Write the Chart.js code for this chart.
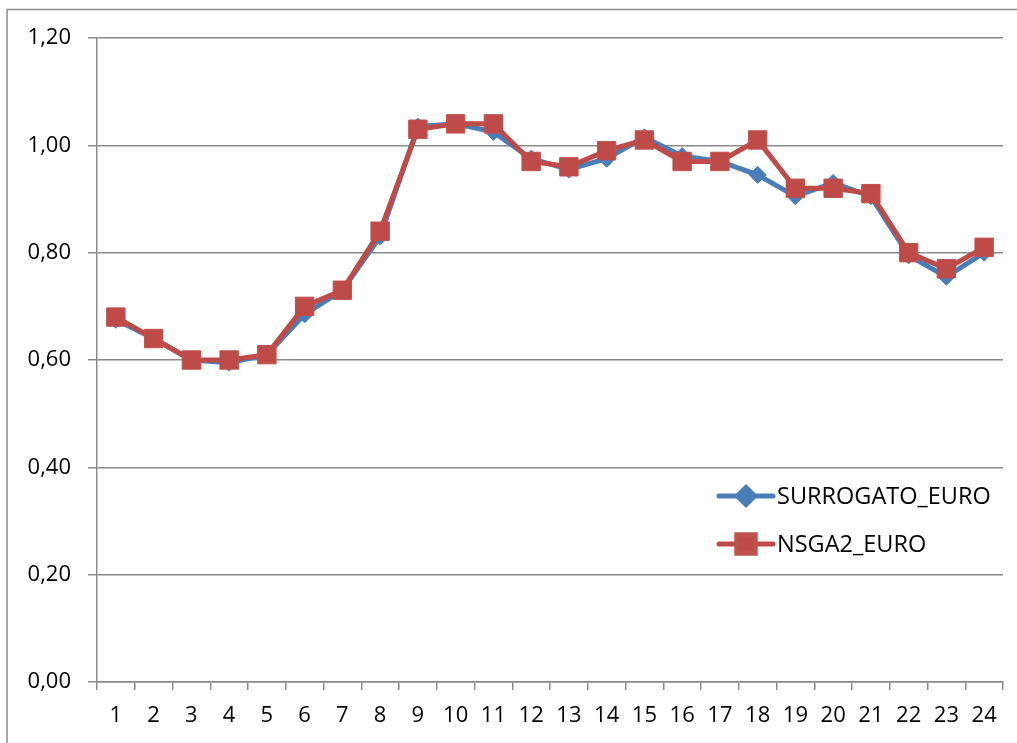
<!DOCTYPE html>
<html>
<head>
<meta charset="utf-8">
<script src="https://cdn.jsdelivr.net/npm/chart.js@4.4.1/dist/chart.umd.min.js"></script>
<style>
  html, body { margin: 0; padding: 0; background: #fff; }
  #wrap { width: 1017px; height: 743px; position: relative; }
</style>
</head>
<body>
<div id="wrap"><canvas id="chart"></canvas></div>
<script>
// hours 1..24
const hours = ["1","2","3","4","5","6","7","8","9","10","11","12","13","14","15","16","17","18","19","20","21","22","23","24"];

const surrogatoEuro = [0.675, 0.64, 0.60, 0.595, 0.61, 0.685, 0.73, 0.83, 1.035, 1.04, 1.025, 0.975,
                       0.955, 0.975, 1.015, 0.98, 0.97, 0.945, 0.905, 0.93, 0.905, 0.795, 0.755, 0.80];
const nsga2Euro     = [0.68, 0.64, 0.60, 0.60, 0.61, 0.70, 0.73, 0.84, 1.03, 1.04, 1.04, 0.97,
                       0.96, 0.99, 1.01, 0.97, 0.97, 1.01, 0.92, 0.92, 0.91, 0.80, 0.77, 0.81];

const yTicks = [0, 0.2, 0.4, 0.6, 0.8, 1.0, 1.2];

const FONT = "'Open Sans', sans-serif";
const BLUE = "#4a7ebb";
const RED = "#be4b48";
const GRID = "#8a8a8a";

// outer frame of the excel chart
const framePlugin = {
    id: "frame",
    beforeDraw(chart) {
        const ctx = chart.ctx;
        ctx.save();
        ctx.strokeStyle = "#8c8c8c";
        ctx.lineWidth = 1.5;
        ctx.strokeRect(7, 9.5, 1200, 1200);
        ctx.restore();
    }
};

// legend drawn inside the plot, excel style
const legendPlugin = {
    id: "innerLegend",
    afterDatasetsDraw(chart) {
        const ctx = chart.ctx;
        const items = [chart.data.datasets[1], chart.data.datasets[0]];
        ctx.save();
        items.forEach((ds, i) => {
            const y = 496 + i * 48;
            ctx.strokeStyle = ds.borderColor;
            ctx.lineWidth = 5;
            ctx.lineCap = "round";
            ctx.beginPath();
            ctx.moveTo(719, y);
            ctx.lineTo(773, y);
            ctx.stroke();
            ctx.fillStyle = ds.pointBackgroundColor;
            ctx.strokeStyle = ds.pointBorderColor;
            Chart.helpers.drawPoint(ctx, {
                pointStyle: ds.pointStyle, radius: ds.pointRadius, rotation: 0, borderWidth: 1
            }, 746, y);
            ctx.fillStyle = "#000";
            ctx.font = "23.5px " + FONT;
            ctx.textBaseline = "middle";
            ctx.fillText(ds.label, 777, y + 1);
        });
        ctx.restore();
    }
};

new Chart(document.getElementById("chart"), {
    type: "line",
    data: {
        labels: hours,
        datasets: [
            {
                label: "NSGA2_EURO", data: nsga2Euro, order: 0,
                borderColor: RED, borderWidth: 5,
                pointStyle: "rect", pointRadius: 13, pointHoverRadius: 13,
                pointBackgroundColor: RED, pointBorderColor: "#c0504d", pointBorderWidth: 1
            },
            {
                label: "SURROGATO_EURO", data: surrogatoEuro, order: 1,
                borderColor: BLUE, borderWidth: 5,
                pointStyle: "rectRot", pointRadius: 8.5, pointHoverRadius: 8.5,
                pointBackgroundColor: BLUE, pointBorderColor: BLUE, pointBorderWidth: 1
            }
        ]
    },
    options: {
        responsive: true,
        maintainAspectRatio: false,
        animation: false,
        layout: { padding: { top: 38, right: 11, left: 0, bottom: 0 } },
        plugins: { legend: { display: false }, tooltip: { enabled: false } },
        scales: {
            x: {
                offset: true,
                grid: { display: true, offset: true, drawOnChartArea: false, drawTicks: true,
                        tickLength: 8, color: GRID, lineWidth: 1.5 },
                border: { color: GRID, width: 1.5 },
                ticks: { color: "#000", font: { family: FONT, size: 22 }, padding: 13,
                         maxRotation: 0, autoSkip: false },
                afterFit(s) { s.height = 61; }
            },
            y: {
                min: 0, max: 1.2,
                afterBuildTicks(s) { s.ticks = yTicks.map(v => ({ value: v })); },
                grid: { color: GRID, lineWidth: 1.5, tickLength: 9 },
                border: { color: GRID, width: 1.5 },
                ticks: { color: "#000", font: { family: FONT, size: 22 }, padding: 17,
                         callback: v => v.toFixed(2).replace(".", ",") },
                afterFit(s) { s.width = 97; }
            }
        }
    },
    plugins: [framePlugin, legendPlugin]
});
</script>
</body>
</html>
